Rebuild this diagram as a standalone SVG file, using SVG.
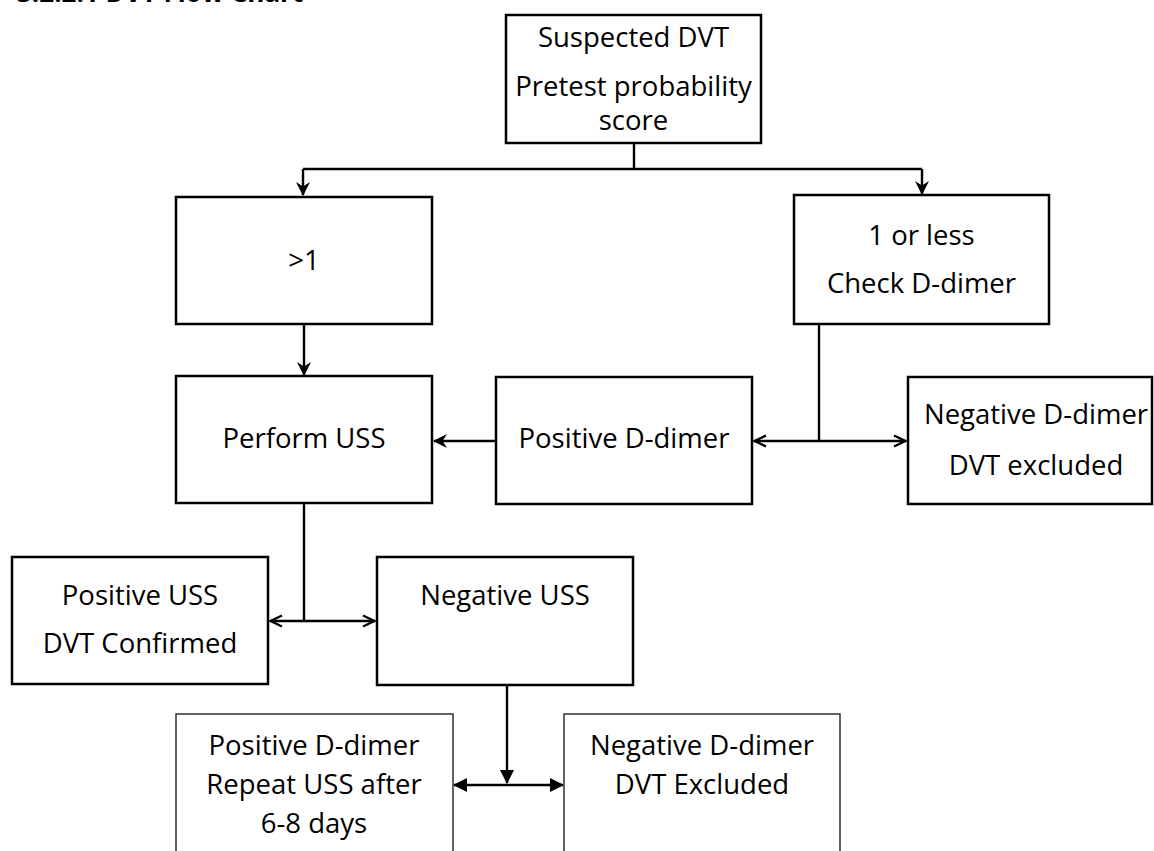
<svg xmlns="http://www.w3.org/2000/svg" width="1154" height="851" viewBox="0 0 1154 851">
<style>
  .box { fill: #ffffff; stroke: #000000; stroke-width: 2.5; }
  .thin { fill: #ffffff; stroke: #222222; stroke-width: 1.4; }
  .t { font-family: "Open Sans", "Liberation Sans", sans-serif; font-size: 27.5px; fill: #000000; text-anchor: middle; }
  .title { font-family: "Open Sans", "Liberation Sans", sans-serif; font-size: 26px; font-weight: bold; fill: #000000; }
  .c { fill: none; stroke: #000000; stroke-width: 2.4; }
</style>
<defs>
  <marker id="stealth" viewBox="0 0 14 14" refX="13" refY="7" markerWidth="14" markerHeight="14" markerUnits="userSpaceOnUse" orient="auto-start-reverse">
    <path d="M0,0 L14,7 L0,14 L4.5,7 z" fill="#000000"/>
  </marker>
  <marker id="open" viewBox="0 0 14 14" refX="13" refY="7" markerWidth="14" markerHeight="14" markerUnits="userSpaceOnUse" orient="auto-start-reverse">
    <path d="M1,1.5 L12.5,7 L1,12.5" fill="none" stroke="#000000" stroke-width="2.4"/>
  </marker>
  <marker id="tri" viewBox="0 0 14 14" refX="13" refY="7" markerWidth="14" markerHeight="14" markerUnits="userSpaceOnUse" orient="auto-start-reverse">
    <path d="M0,0 L14,7 L0,14 z" fill="#000000"/>
  </marker>
</defs>

<text class="title" x="17" y="2">3.2.2.1 DVT Flow Chart</text>

<g id="connectors">
  <path class="c" d="M634,143 V169"/>
  <path class="c" d="M303,169 H922"/>
  <path class="c" d="M303,169 V195" marker-end="url(#stealth)"/>
  <path class="c" d="M922,169 V194" marker-end="url(#stealth)"/>
  <path class="c" d="M304,324 V375" marker-end="url(#stealth)"/>
  <path class="c" d="M496,441 H434" marker-end="url(#stealth)"/>
  <path class="c" d="M819,324 V441"/>
  <path class="c" d="M754,441 H906" marker-start="url(#open)" marker-end="url(#open)"/>
  <path class="c" d="M304,503 V621"/>
  <path class="c" d="M270,621 H375" marker-start="url(#open)" marker-end="url(#open)"/>
  <path class="c" d="M507,685 V783" marker-end="url(#tri)"/>
  <path class="c" d="M454,785 H563" marker-start="url(#tri)" marker-end="url(#tri)"/>
</g>

<g id="node-suspected">
  <rect class="box" x="506" y="15" width="255" height="128"/>
  <text class="t" x="633.5" y="47">Suspected DVT</text>
  <text class="t" x="633.5" y="96">Pretest probability</text>
  <text class="t" x="633.5" y="130">score</text>
</g>

<g id="node-gt1">
  <rect class="box" x="176" y="197" width="256" height="127"/>
  <text class="t" x="304" y="270">&gt;1</text>
</g>

<g id="node-1orless">
  <rect class="box" x="794" y="195" width="255" height="129"/>
  <text class="t" x="921.5" y="245">1 or less</text>
  <text class="t" x="921.5" y="293">Check D-dimer</text>
</g>

<g id="node-perform-uss">
  <rect class="box" x="176" y="376" width="256" height="127"/>
  <text class="t" x="304" y="448">Perform USS</text>
</g>

<g id="node-positive-ddimer">
  <rect class="box" x="496" y="377" width="256" height="127"/>
  <text class="t" x="624" y="448">Positive D-dimer</text>
</g>

<g id="node-negative-ddimer">
  <rect class="box" x="908" y="377" width="244" height="127"/>
  <text class="t" x="1036" y="424">Negative D-dimer</text>
  <text class="t" x="1036" y="475">DVT excluded</text>
</g>

<g id="node-positive-uss">
  <rect class="box" x="12" y="557" width="256" height="127"/>
  <text class="t" x="140" y="605">Positive USS</text>
  <text class="t" x="140" y="653">DVT Confirmed</text>
</g>

<g id="node-negative-uss">
  <rect class="box" x="377" y="557" width="256" height="128"/>
  <text class="t" x="505" y="605">Negative USS</text>
</g>

<g id="node-repeat-uss">
  <rect class="thin" x="176" y="714" width="277" height="160"/>
  <text class="t" x="314" y="755">Positive D-dimer</text>
  <text class="t" x="314" y="794">Repeat USS after</text>
  <text class="t" x="314" y="833">6-8 days</text>
</g>

<g id="node-dvt-excluded">
  <rect class="thin" x="564" y="714" width="276" height="160"/>
  <text class="t" x="702" y="755">Negative D-dimer</text>
  <text class="t" x="702" y="794">DVT Excluded</text>
</g>
</svg>
